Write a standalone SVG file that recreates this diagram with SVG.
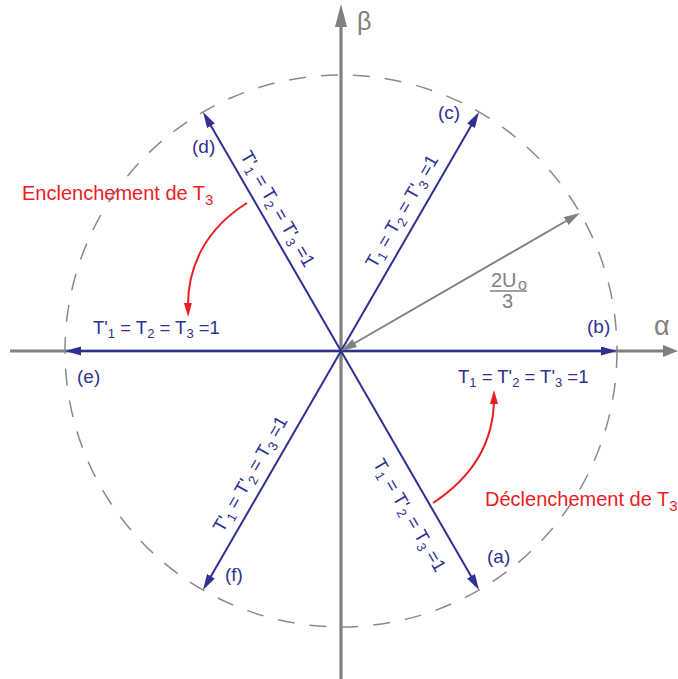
<svg xmlns="http://www.w3.org/2000/svg" width="678" height="679" viewBox="0 0 678 679">
<style>
  .ax{stroke:#808080;stroke-width:3.2;fill:none}
  .axh{fill:#808080}
  .circ{fill:none;stroke:#8a8a8a;stroke-width:1.5;stroke-dasharray:17 15}
  .vec{stroke:#2e3192;stroke-width:2;fill:none;marker-end:url(#hb)}
  .dim{stroke:#808080;stroke-width:2;fill:none;marker-end:url(#hg);marker-start:url(#hg)}
  .rarc{stroke:#ed1c24;stroke-width:2;fill:none;marker-end:url(#hr)}
  text{font-family:"Liberation Sans",Arial,sans-serif}
  .bl{fill:#2e3192;font-size:18.5px}
  .lab{fill:#2e3192;font-size:19px}
  .rd{fill:#ed1c24;font-size:20px}
  .gr{fill:#808080;font-size:20px}
  .s{font-size:13px}
  .rs{font-size:15px}
</style>
<defs>
  <marker id="hb" markerUnits="userSpaceOnUse" markerWidth="18" markerHeight="12" refX="8" refY="4.5" orient="auto"><path d="M0,0 L16,4.5 L0,9 z" fill="#2e3192"/></marker>
  <marker id="hg" markerUnits="userSpaceOnUse" markerWidth="18" markerHeight="12" refX="8" refY="4.5" orient="auto-start-reverse"><path d="M0,0 L16,4.5 L0,9 z" fill="#808080"/></marker>
  <marker id="hr" markerUnits="userSpaceOnUse" markerWidth="18" markerHeight="12" refX="6" refY="4" orient="auto"><path d="M0,0 L14,4 L0,8 z" fill="#ed1c24"/></marker>
</defs>

<g id="axes">
  <line class="ax" x1="10" y1="351" x2="665" y2="351"/>
  <polygon class="axh" points="678,351 663,345 663,357"/>
  <line class="ax" x1="341" y1="679" x2="341" y2="25"/>
  <polygon class="axh" points="341,4 335,27 347,27"/>
  <text class="gr" x="654" y="335" style="font-size:27px">α</text>
  <text class="gr" x="357" y="30" style="font-size:25px">β</text>
</g>

<g id="circle">
  <circle class="circ" cx="341" cy="351" r="276"/>
</g>

<g id="connectors">
  <line class="vec" x1="341" y1="351" x2="609" y2="351"/>
  <line class="vec" x1="341" y1="351" x2="475" y2="118.9"/>
  <line class="vec" x1="341" y1="351" x2="207" y2="118.9"/>
  <line class="vec" x1="341" y1="351" x2="73" y2="351"/>
  <line class="vec" x1="341" y1="351" x2="207" y2="583.1"/>
  <line class="vec" x1="341" y1="351" x2="475" y2="583.1"/>
  <line class="dim" x1="347.9" y1="347" x2="573.1" y2="217"/>
  <path class="rarc" d="M247,203 C207,228 187,265 188,309"/>
  <path class="rarc" d="M433,503 C468,480 494,448 494,398"/>
</g>

<g id="magnitude">
  <text class="gr" x="491" y="287">2U</text>
  <text class="gr" x="518" y="290" style="font-size:16px">o</text>
  <line x1="490" y1="291" x2="527" y2="291" stroke="#808080" stroke-width="1.5"/>
  <text class="gr" x="502" y="308">3</text>
</g>

<g id="node-a">
  <text class="lab" x="487" y="563">(a)</text>
  <text class="bl" transform="translate(341,351) rotate(60)" x="113" y="29">T<tspan class="s" dy="4">1</tspan><tspan dy="-4"> = T'</tspan><tspan class="s" dy="4">2</tspan><tspan dy="-4"> = T</tspan><tspan class="s" dy="4">3</tspan><tspan dy="-4"> =1</tspan></text>
</g>
<g id="node-b">
  <text class="lab" x="587" y="333">(b)</text>
  <text class="bl" x="458" y="383">T<tspan class="s" dy="4">1</tspan><tspan dy="-4"> = T'</tspan><tspan class="s" dy="4">2</tspan><tspan dy="-4"> = T'</tspan><tspan class="s" dy="4">3</tspan><tspan dy="-4"> =1</tspan></text>
</g>
<g id="node-c">
  <text class="lab" x="438" y="119">(c)</text>
  <text class="bl" transform="translate(341,351) rotate(-60)" x="88" y="-11">T<tspan class="s" dy="4">1</tspan><tspan dy="-4"> = T</tspan><tspan class="s" dy="4">2</tspan><tspan dy="-4"> = T'</tspan><tspan class="s" dy="4">3</tspan><tspan dy="-4"> =1</tspan></text>
</g>
<g id="node-d">
  <text class="lab" x="192" y="153">(d)</text>
  <text class="bl" transform="translate(203.5,112.8) rotate(60)" x="55" y="-10">T'<tspan class="s" dy="4">1</tspan><tspan dy="-4"> = T</tspan><tspan class="s" dy="4">2</tspan><tspan dy="-4"> = T'</tspan><tspan class="s" dy="4">3</tspan><tspan dy="-4"> =1</tspan></text>
</g>
<g id="node-e">
  <text class="lab" x="77" y="383">(e)</text>
  <text class="bl" x="93" y="334">T'<tspan class="s" dy="4">1</tspan><tspan dy="-4"> = T</tspan><tspan class="s" dy="4">2</tspan><tspan dy="-4"> = T</tspan><tspan class="s" dy="4">3</tspan><tspan dy="-4"> =1</tspan></text>
</g>
<g id="node-f">
  <text class="lab" x="225" y="581">(f)</text>
  <text class="bl" transform="translate(203.5,589.2) rotate(-60)" x="58" y="-11">T'<tspan class="s" dy="4">1</tspan><tspan dy="-4"> = T'</tspan><tspan class="s" dy="4">2</tspan><tspan dy="-4"> = T</tspan><tspan class="s" dy="4">3</tspan><tspan dy="-4"> =1</tspan></text>
</g>

<g id="label-enclenchement">
  <text class="rd" x="22" y="200">Enclenchement de T<tspan class="rs" dy="5">3</tspan></text>
</g>
<g id="label-declenchement">
  <text class="rd" x="485" y="506">Déclenchement de T<tspan class="rs" dy="5">3</tspan></text>
</g>
</svg>
